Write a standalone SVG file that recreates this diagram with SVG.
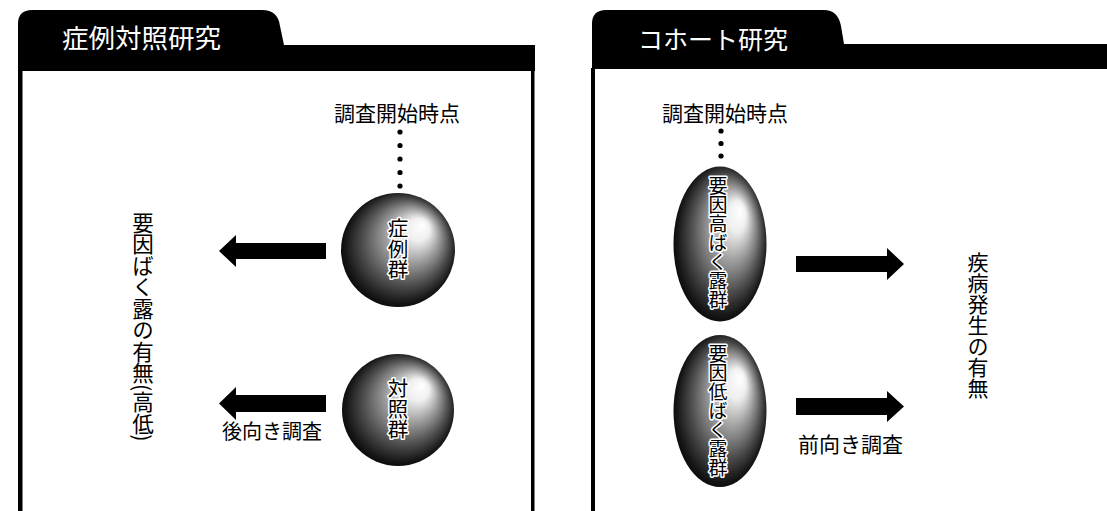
<svg xmlns="http://www.w3.org/2000/svg" width="1107" height="511" viewBox="0 0 1107 511">
<style>
text{font-family:"Noto Sans CJK JP","Noto Sans CJK SC",sans-serif;fill:#000}
.title{fill:#fff;font-size:26px}
.lbl{font-size:20px}
.vert{font-size:20px;writing-mode:vertical-rl;text-anchor:start}
.inner{font-size:19px;writing-mode:vertical-rl;text-anchor:start;stroke:#fff;stroke-width:3;paint-order:stroke;stroke-linejoin:round}
.dot{fill:#000}
.arrow{fill:#000}
</style>
<defs>
<radialGradient id="ball" cx="0.5" cy="0.5" r="0.55" fx="0.72" fy="0.28">
<stop offset="0" stop-color="#ffffff"/>
<stop offset="0.18" stop-color="#efefef"/>
<stop offset="0.42" stop-color="#a0a0a0"/>
<stop offset="0.68" stop-color="#505050"/>
<stop offset="0.88" stop-color="#181818"/>
<stop offset="1" stop-color="#000"/>
</radialGradient>
</defs>
<rect width="1107" height="511" fill="#fff"/>

<g id="panel-left">
<path d="M18,71 V24 Q18,10 32,10 H262 Q278,10 280,26 L284,45 H535 V71 Z" fill="#000"/>
<rect x="18" y="70" width="4.5" height="441" fill="#000"/>
<rect x="531" y="70" width="3.5" height="441" fill="#000"/>
<text class="title" x="62" y="48" style="font-size:26.5px">症例対照研究</text>
</g>

<g id="panel-right">
<path d="M592,69 V24 Q592,10 606,10 H824 Q838,10 841,26 L844,44 H1107 V69 Z" fill="#000"/>
<rect x="591" y="68" width="4" height="443" fill="#000"/>
<text class="title" x="638" y="49" style="font-size:25px">コホート研究</text>
</g>

<g id="start-left">
<text class="lbl" x="397" y="121" text-anchor="middle" style="font-size:21px">調査開始時点</text>
<circle class="dot" cx="400" cy="132" r="2.6"/>
<circle class="dot" cx="400" cy="145.5" r="2.6"/>
<circle class="dot" cx="400" cy="159" r="2.6"/>
<circle class="dot" cx="400" cy="172.5" r="2.6"/>
<circle class="dot" cx="400" cy="186" r="2.6"/>
</g>

<g id="case-group">
<circle cx="398" cy="250" r="57" fill="url(#ball)"/>
<text class="inner" x="398" y="218" style="font-size:20.5px">症例群</text>
</g>

<g id="control-group">
<circle cx="398" cy="410" r="56" fill="url(#ball)"/>
<text class="inner" x="398" y="378" style="font-size:20.5px">対照群</text>
</g>

<g id="exposure-label">
<text class="vert" x="143" y="212" style="font-size:21.5px">要因ばく露の有無(高低)</text>
</g>

<g id="retro-label">
<text class="lbl" x="222" y="439">後向き調査</text>
</g>

<g id="start-right">
<text class="lbl" x="725" y="121" text-anchor="middle" style="font-size:21px">調査開始時点</text>
<circle class="dot" cx="721" cy="131" r="2.6"/>
<circle class="dot" cx="721" cy="143.5" r="2.6"/>
<circle class="dot" cx="721" cy="156" r="2.6"/>
</g>

<g id="high-exposure">
<ellipse cx="720" cy="244" rx="46.5" ry="77.5" fill="url(#ball)"/>
<text class="inner" x="718" y="176">要因高ばく露群</text>
</g>

<g id="low-exposure">
<ellipse cx="720" cy="411" rx="46.5" ry="76" fill="url(#ball)"/>
<text class="inner" x="718" y="344">要因低ばく露群</text>
</g>

<g id="disease-label">
<text class="vert" x="978" y="252" style="font-size:21px">疾病発生の有無</text>
</g>

<g id="prosp-label">
<text class="lbl" x="798" y="452" style="font-size:21px">前向き調査</text>
</g>

<g id="connectors">
<path class="arrow" d="M326,243 V259 H236 V267 L219,251 L236,235 V243 Z"/>
<path class="arrow" d="M326,395 V412 H236 V420 L219,403.5 L236,387 V395 Z"/>
<path class="arrow" d="M796,256 V272 H887 V280 L904,264 L887,248 V256 Z"/>
<path class="arrow" d="M796,398 V415 H887 V422 L904,406.5 L887,391 V398 Z"/>
</g>
</svg>
